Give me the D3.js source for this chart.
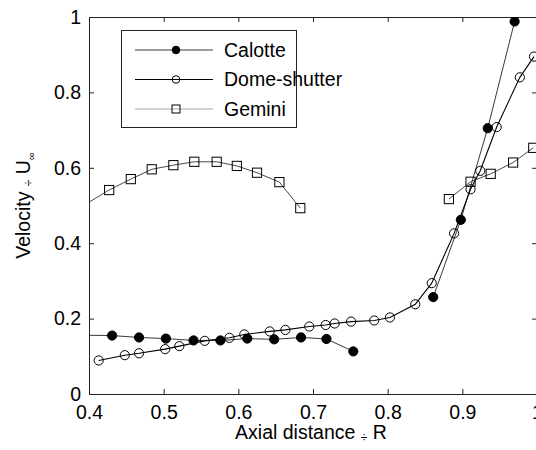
<!DOCTYPE html>
<html>
<head>
<meta charset="utf-8">
<script src="https://cdn.jsdelivr.net/npm/d3@7"></script>
<style>
  body { margin: 0; background: #fff; }
  text { font-family: "Liberation Sans", Arial, sans-serif; fill: #000; }
</style>
</head>
<body>
<svg id="chart"></svg>
<script>
(function() {

// series values (NaN = gap in the line)
const calotteX = [0.39, 0.431, 0.467, 0.503, 0.540, 0.576, 0.612, 0.648, 0.684, 0.718, 0.754, NaN, 0.861, 0.898, 0.934, 0.970];
const calotteY = [0.156, 0.155, 0.150, 0.147, 0.142, 0.142, 0.147, 0.145, 0.150, 0.146, 0.113, NaN, 0.257, 0.462, 0.705, 0.988];

const domeX = [0.413, 0.448, 0.467, 0.502, 0.521, 0.555, 0.588, 0.608, 0.642, 0.663, 0.695, 0.717, 0.729, 0.751, 0.782, 0.803, 0.837, 0.859, 0.889, 0.911, 0.924, 0.946, 0.977, 0.996];
const domeY = [0.089, 0.103, 0.108, 0.119, 0.127, 0.141, 0.149, 0.158, 0.166, 0.170, 0.179, 0.183, 0.187, 0.192, 0.195, 0.203, 0.238, 0.294, 0.426, 0.543, 0.592, 0.708, 0.840, 0.895];

const geminiX = [0.39, 0.427, 0.456, 0.484, 0.513, 0.541, 0.571, 0.598, 0.625, 0.655, 0.683, NaN, 0.882, 0.911, 0.938, 0.968, 0.995];
const geminiY = [0.497, 0.541, 0.570, 0.596, 0.607, 0.616, 0.616, 0.605, 0.587, 0.562, 0.493, NaN, 0.517, 0.563, 0.584, 0.614, 0.653];

const xTicks = [0.4, 0.5, 0.6, 0.7, 0.8, 0.9, 1];
const yTicks = [0, 0.2, 0.4, 0.6, 0.8, 1];
const legendNames = ["Calotte", "Dome-shutter", "Gemini"];

const W = 536, H = 450;
const left = 89, right = 537, top = 17, bottom = 394;
const fontSize = 19.5;

const svg = d3.select("#chart").attr("width", W).attr("height", H);

const x = d3.scaleLinear().domain([0.4, 1]).range([left, right]);
const y = d3.scaleLinear().domain([0, 1]).range([bottom, top]);

svg.append("clipPath").attr("id", "plotclip")
    .append("rect")
    .attr("x", left).attr("y", top)
    .attr("width", right - left).attr("height", bottom - top);

// axes: ticks pointing inward on all four sides
const tickLen = 5;
const fmt = d => d === 0 || d === 1 ? String(d) : d3.format(".1f")(d);

const xAxisB = svg.append("g").attr("transform", `translate(0,${bottom})`)
    .call(d3.axisBottom(x).tickValues(xTicks).tickSizeInner(-tickLen).tickSizeOuter(0).tickPadding(tickLen + 6).tickFormat(fmt));
const xAxisT = svg.append("g").attr("transform", `translate(0,${top})`)
    .call(d3.axisTop(x).tickValues(xTicks).tickSizeInner(-tickLen).tickSizeOuter(0).tickFormat(""));
const yAxisL = svg.append("g").attr("transform", `translate(${left},0)`)
    .call(d3.axisLeft(y).tickValues(yTicks).tickSizeInner(-tickLen).tickSizeOuter(0).tickPadding(tickLen + 3).tickFormat(fmt));
const yAxisR = svg.append("g").attr("transform", `translate(${right},0)`)
    .call(d3.axisRight(y).tickValues(yTicks).tickSizeInner(-tickLen).tickSizeOuter(0).tickFormat(""));

[xAxisB, xAxisT, yAxisL, yAxisR].forEach(g => {
    g.select(".domain").attr("stroke", "#222").attr("stroke-width", 1);
    g.selectAll(".tick line").attr("stroke", "#222");
    g.selectAll("text").attr("font-family", null).attr("font-size", fontSize).attr("fill", "#000");
});

// axis labels
const xl = svg.append("text")
    .attr("x", (left + right) / 2 - 2).attr("y", 439)
    .attr("text-anchor", "middle").attr("font-size", fontSize);
xl.append("tspan").text("Axial distance ");
xl.append("tspan").attr("font-size", 12).attr("dy", 3).text("÷");
xl.append("tspan").attr("dy", -3).text(" R");

const yl = svg.append("text")
    .attr("transform", `translate(30,${(top + bottom) / 2}) rotate(-90)`)
    .attr("text-anchor", "middle").attr("font-size", fontSize);
yl.append("tspan").text("Velocity ");
yl.append("tspan").attr("font-size", 12).attr("dy", 3).text("÷");
yl.append("tspan").attr("dy", -3).text(" U");
yl.append("tspan").attr("font-size", 11).attr("dy", 5).text("∞");

// data
const plot = svg.append("g").attr("clip-path", "url(#plotclip)");

const series = [
    { name: "Calotte", xs: calotteX, ys: calotteY, stroke: "#222", sw: 0.9, marker: "filled", lstroke: "#222" },
    { name: "Dome-shutter", xs: domeX, ys: domeY, stroke: "#000", sw: 1.1, marker: "open", lstroke: "#000" },
    { name: "Gemini", xs: geminiX, ys: geminiY, stroke: "#333", sw: 0.9, marker: "square", lstroke: "#9a9a9a" }
];

const line = d3.line()
    .defined(d => !isNaN(d[0]) && !isNaN(d[1]))
    .x(d => x(d[0])).y(d => y(d[1]));

function drawMarker(g, kind, cx, cy, s) {
    if (kind === "square") {
        g.append("rect")
            .attr("x", cx - s).attr("y", cy - s)
            .attr("width", 2 * s).attr("height", 2 * s)
            .attr("fill", "none").attr("stroke", "#000").attr("stroke-width", 1);
    } else {
        g.append("circle")
            .attr("cx", cx).attr("cy", cy).attr("r", s)
            .attr("fill", kind === "filled" ? "#000" : "none")
            .attr("stroke", "#000").attr("stroke-width", 1);
    }
}

series.forEach(s => {
    const pts = s.xs.map((v, i) => [v, s.ys[i]]);
    plot.append("path")
        .attr("d", line(pts))
        .attr("fill", "none")
        .attr("stroke", s.stroke)
        .attr("stroke-width", s.sw);
    pts.filter(p => !isNaN(p[0])).forEach(p => {
        drawMarker(plot, s.marker, x(p[0]), y(p[1]), 4.6);
    });
});

// legend
const lg = svg.append("g");
lg.append("rect")
    .attr("x", 121.5).attr("y", 30.5)
    .attr("width", 175).attr("height", 97)
    .attr("fill", "#fff").attr("stroke", "#222").attr("stroke-width", 1);

const legendY = d3.scalePoint().domain(legendNames).range([50, 109]);

series.forEach(s => {
    const ly = legendY(s.name);
    lg.append("line")
        .attr("x1", 135).attr("x2", 213)
        .attr("y1", ly).attr("y2", ly)
        .attr("stroke", s.lstroke).attr("stroke-width", s.sw);
    drawMarker(lg, s.marker, 176, ly, s.marker === "square" ? 4 : 3.8);
    lg.append("text")
        .attr("x", 224).attr("y", ly)
        .attr("dy", "0.35em")
        .attr("font-size", fontSize)
        .text(s.name);
});

})();
</script>
</body>
</html>
